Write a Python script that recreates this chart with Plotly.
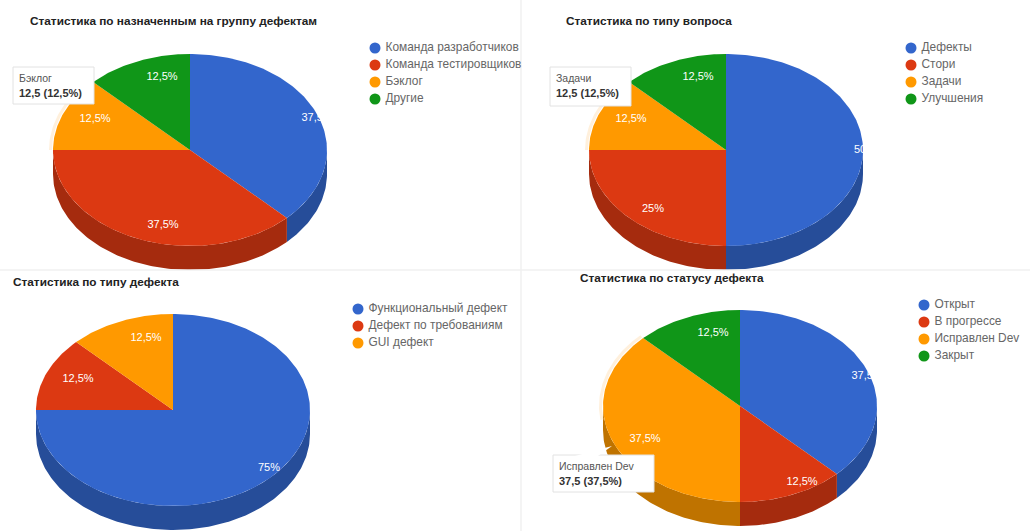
import math
import plotly.graph_objects as go

W, H = 1030, 531

# ---- data ----
titles = ["Статистика по назначенным на группу дефектам", "Статистика по типу вопроса",
          "Статистика по типу дефекта", "Статистика по статусу дефекта"]
cats_1 = ["Команда разработчиков", "Команда тестировщиков", "Бэклог", "Другие"]
vals_1 = [37.5, 37.5, 12.5, 12.5]
cats_2 = ["Дефекты", "Стори", "Задачи", "Улучшения"]
vals_2 = [50, 25, 12.5, 12.5]
cats_3 = ["Функциональный дефект", "Дефект по требованиям", "GUI дефект"]
vals_3 = [75, 12.5, 12.5]
cats_4 = ["Открыт", "В прогрессе", "Исправлен Dev", "Закрыт"]
vals_4 = [37.5, 12.5, 37.5, 12.5]

# ---- style / layout ----
TOP = ["#3366CC", "#DC3912", "#FF9900", "#109618"]
SIDE = ["#264D99", "#A52B0E", "#BF7300", "#0C7012"]
HALO = "#FFF0DC"
RX, RY, DEPTH = 137, 96, 24
panels = [
    dict(cats=cats_1, vals=vals_1, cx=190, cy=150, title=(30, 21), leg=(375, 48), hover=2,
         lab=[(127, -32), (-27, 75), (-95, -31), (-28, -73)]),
    dict(cats=cats_2, vals=vals_2, cx=726, cy=150, title=(566, 21), leg=(911, 48), hover=2,
         lab=[(139, 0), (-73, 59), (-95, -31), (-28, -73)]),
    dict(cats=cats_3, vals=vals_3, cx=173, cy=410, title=(13, 282), leg=(358, 309), hover=None,
         lab=[(96, 58), (-95, -31), (-27, -72)]),
    dict(cats=cats_4, vals=vals_4, cx=740, cy=406, title=(580, 278), leg=(924, 305), hover=2,
         lab=[(127, -30), (62, 76), (-95, 33), (-27, -73)]),
]
tooltips = [
    dict(box=(13, 67, 94, 104), idx=(0, 2)),
    dict(box=(550, 67, 631, 106), idx=(1, 2)),
    dict(box=(553, 455, 654, 492), idx=(3, 2)),
]


def fmt(v):
    return f"{v:g}".replace(".", ",")


def arc(a, b, rx=RX, ry=RY, dy=0.0):
    n = max(2, int(abs(b - a)) + 1)
    ang = [math.radians(a + (b - a) * i / (n - 1)) for i in range(n)]
    return [rx * math.sin(t) for t in ang], [ry * math.cos(t) - dy for t in ang]


fig = go.Figure()
layout = {}
PAD = 6

for p_i, p in enumerate(panels):
    n = p_i + 1
    xa, ya = f"x{n}", f"y{n}"
    cx, cy = p["cx"], p["cy"]
    layout[f"xaxis{n}"] = dict(domain=[(cx - RX - PAD) / W, (cx + RX) / W], range=[-RX - PAD, RX],
                               visible=False, fixedrange=True)
    layout[f"yaxis{n}"] = dict(domain=[1 - (cy + RY + DEPTH + 1) / H, 1 - (cy - RY - 1) / H],
                               range=[-RY - DEPTH - 1, RY + 1], visible=False, fixedrange=True)
    total = sum(p["vals"])
    spans, a = [], 0.0
    for v in p["vals"]:
        spans.append((a, a + v / total * 360))
        a += v / total * 360

    # side walls (front half only)
    for i, (a0, a1) in enumerate(spans):
        s0, s1 = max(a0, 90), min(a1, 270)
        if s1 > s0:
            xt, yt = arc(s0, s1)
            xb, yb = arc(s0, s1, dy=DEPTH)
            fig.add_trace(go.Scatter(x=xt + xb[::-1], y=yt + yb[::-1], xaxis=xa, yaxis=ya, mode="lines",
                                     fill="toself", fillcolor=SIDE[i], line=dict(width=0, color=SIDE[i]),
                                     hoverinfo="skip", showlegend=False))
    # halo of the hovered slice, back half only
    if p["hover"] is not None:
        a0, a1 = spans[p["hover"]]
        xh, yh = arc(max(a0, 262), a1, rx=RX + 2.5, ry=RY + 2.5)
        fig.add_trace(go.Scatter(x=xh, y=yh, xaxis=xa, yaxis=ya, mode="lines",
                                 line=dict(width=3, color=HALO), hoverinfo="skip", showlegend=False))
    # top faces
    for i, (a0, a1) in enumerate(spans):
        xt, yt = arc(a0, a1)
        fig.add_trace(go.Scatter(x=[0] + xt + [0], y=[0] + yt + [0], xaxis=xa, yaxis=ya, mode="lines",
                                 fill="toself", fillcolor=TOP[i], line=dict(width=0, color=TOP[i]),
                                 name=p["cats"][i], hoverinfo="name", showlegend=False))
    # percentage labels (clipped by the plot area, as in the original)
    fig.add_trace(go.Scatter(x=[d[0] for d in p["lab"]], y=[-d[1] for d in p["lab"]], xaxis=xa, yaxis=ya,
                             mode="text", text=[fmt(v / total * 100) + "%" for v in p["vals"]],
                             textposition="middle center", textfont=dict(family="Liberation Sans", size=11, color="#FFFFFF"),
                             cliponaxis=True, hoverinfo="skip", showlegend=False))

# overlay in figure pixels, for legends
layout["xaxis5"] = dict(domain=[0, 1], range=[0, W], visible=False, fixedrange=True)
layout["yaxis5"] = dict(domain=[0, 1], range=[H, 0], visible=False, fixedrange=True)
LEG_STEP = 17
for p in panels:
    lx, ly = p["leg"]
    k = len(p["cats"])
    ys = [ly + LEG_STEP * i for i in range(k)]
    fig.add_trace(go.Scatter(x=[lx] * k, y=ys, xaxis="x5", yaxis="y5", mode="markers",
                             marker=dict(size=11, color=TOP[:k], line=dict(width=0)),
                             cliponaxis=False, hoverinfo="skip", showlegend=False))
    fig.add_trace(go.Scatter(x=[lx + 10.5] * k, y=ys, xaxis="x5", yaxis="y5", mode="text",
                             text=p["cats"], textposition="middle right",
                             textfont=dict(family="Liberation Sans", size=11.9, color="#666666"),
                             cliponaxis=False, hoverinfo="skip", showlegend=False))

annotations = []
shapes = []
# panel separators
shapes.append(dict(type="line", xref="paper", yref="paper", x0=0, x1=1, y0=1 - 270 / H, y1=1 - 270 / H,
                   line=dict(color="#F0F0F0", width=1.5), layer="above"))
shapes.append(dict(type="line", xref="paper", yref="paper", x0=521 / W, x1=521 / W, y0=0, y1=1,
                   line=dict(color="#F0F0F0", width=1.5), layer="below"))

for p, t in zip(panels, titles):
    annotations.append(dict(text=f"<b>{t}</b>", xref="paper", yref="paper", x=p["title"][0] / W,
                            y=1 - p["title"][1] / H, xanchor="left", yanchor="middle", showarrow=False,
                            xshift=-2, font=dict(family="Liberation Sans", size=11.8, color="#222222")))

for t in tooltips:
    x0, y0, x1, y1 = t["box"]
    p_idx, s_idx = t["idx"]
    p = panels[p_idx]
    v = p["vals"][s_idx]
    pct = v / sum(p["vals"]) * 100
    shapes.append(dict(type="rect", xref="paper", yref="paper", x0=x0 / W, x1=x1 / W, y0=1 - y0 / H, y1=1 - y1 / H,
                       fillcolor="#FFFFFF", line=dict(color="#E2E2E2", width=1), layer="above"))
    annotations.append(dict(text=p["cats"][s_idx], xref="paper", yref="paper", x=(x0 + 4) / W,
                            y=1 - (y0 + 11) / H, xanchor="left", yanchor="middle", showarrow=False,
                            font=dict(family="Liberation Sans", size=10.5, color="#555555")))
    annotations.append(dict(text=f"<b>{fmt(v)} ({fmt(pct)}%)</b>", xref="paper", yref="paper", x=(x0 + 4) / W,
                            y=1 - (y0 + 25.5) / H, xanchor="left", yanchor="middle", showarrow=False,
                            font=dict(family="Liberation Sans", size=11, color="#333333")))

# tooltip stem of the lower-right chart
shapes.append(dict(type="path", xref="paper", yref="paper",
                   path=f"M {575/W} {1-456/H} L {612/W} {1-446/H} L {598/W} {1-456/H} Z",
                   fillcolor="#FFFFFF", line=dict(width=0), layer="above"))

fig.update_layout(width=W, height=H, margin=dict(l=0, r=0, t=0, b=0), paper_bgcolor="#FFFFFF",
                  plot_bgcolor="rgba(0,0,0,0)", showlegend=False, annotations=annotations, shapes=shapes, **layout)
fig.write_html("out.html", config=dict(displayModeBar=False),
               post_script="document.body.style.margin='0';document.body.style.overflow='hidden';")
